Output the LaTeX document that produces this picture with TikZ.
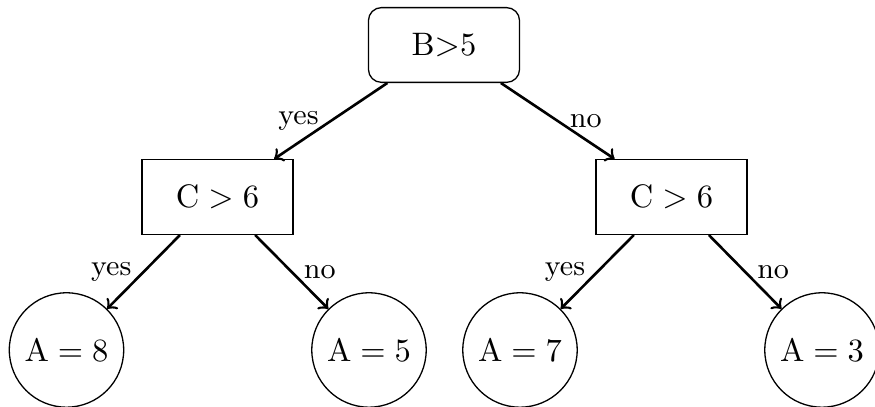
\documentclass[tikz,border=0pt]{standalone}
\begin{document}
\begin{tikzpicture}[x=0.3077pt,y=-0.3077pt,
  rootbox/.style={draw,rounded corners=4pt,minimum width=46.5pt,minimum height=23pt,inner sep=0pt},
  testbox/.style={draw,minimum width=46.5pt,minimum height=23pt,inner sep=0pt},
  leaf/.style={draw,circle,minimum size=35.2pt,inner sep=0pt},
  branch/.style={->,thick},
  lbl/.style={font=\small}]
\useasboundingbox (0,0) rectangle (875,407);
\node[rootbox] (r) at (444,45) {B$>$5};
\node[testbox] (c1) at (217.5,197) {$\mathrm{C}>6$};
\node[testbox] (c2) at (671.5,197) {$\mathrm{C}>6$};
\node[leaf] (l1) at (66.5,350) {$\mathrm{A}=8$};
\node[leaf] (l2) at (369,350) {$\mathrm{A}=5$};
\node[leaf] (l3) at (520,350) {$\mathrm{A}=7$};
\node[leaf] (l4) at (822,350) {$\mathrm{A}=3$};
\draw[branch] (r) -- node[lbl,left] {yes} (c1);
\draw[branch] (r) -- node[lbl,right] {no} (c2);
\draw[branch] (c1) -- node[lbl,left] {yes} (l1);
\draw[branch] (c1) -- node[lbl,right] {no} (l2);
\draw[branch] (c2) -- node[lbl,left] {yes} (l3);
\draw[branch] (c2) -- node[lbl,right] {no} (l4);
\end{tikzpicture}
\end{document}
